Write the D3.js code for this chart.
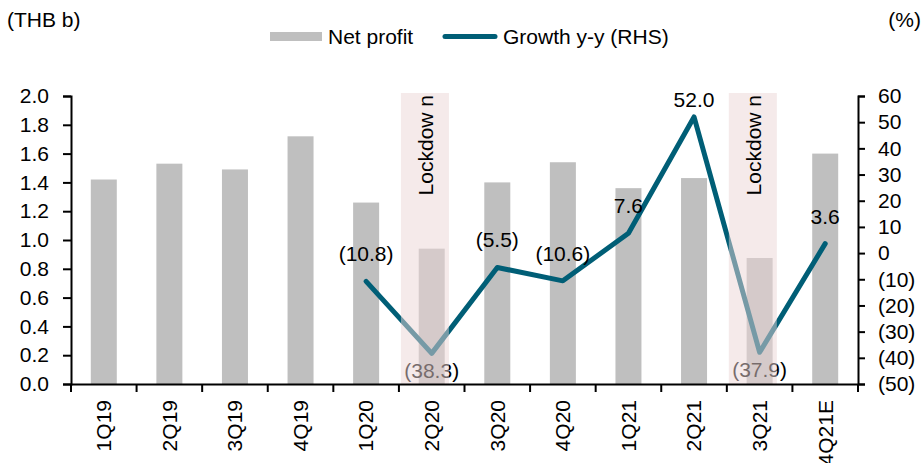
<!DOCTYPE html>
<html>
<head>
<meta charset="utf-8">
<script src="https://cdn.jsdelivr.net/npm/d3@7"></script>
<style>
  html, body { margin: 0; padding: 0; background: #fff; }
  text { font-family: "Liberation Sans", Arial, sans-serif; }
</style>
</head>
<body>
<svg id="chart" width="923" height="463"></svg>
<script>
const categories = ["1Q19","2Q19","3Q19","4Q19","1Q20","2Q20","3Q20","4Q20","1Q21","2Q21","3Q21","4Q21E"];
const netProfit = [1.42, 1.53, 1.49, 1.72, 1.26, 0.94, 1.40, 1.54, 1.36, 1.43, 0.875, 1.60];
const growth = [null, null, null, null, -10.8, -38.3, -5.5, -10.6, 7.6, 52.0, -37.9, 3.6];
const lockdownQuarters = ["2Q20", "3Q21"];
const lockdownLabel = "Lockdow n";
const leftTicks = [0, 0.2, 0.4, 0.6, 0.8, 1.0, 1.2, 1.4, 1.6, 1.8, 2.0];
const rightTicks = [-50, -40, -30, -20, -10, 0, 10, 20, 30, 40, 50, 60];

const FS = 21;
const svg = d3.select("#chart");
const m = { left: 71, right: 858, top: 96, bottom: 384 };

const x = d3.scaleBand().domain(categories).range([m.left, m.right]).padding(0);
const yL = d3.scaleLinear().domain([0, 2]).range([m.bottom, m.top]);
const yR = d3.scaleLinear().domain([-50, 60]).range([m.bottom, m.top]);
const bw = x.bandwidth();
const barW = 26;
const lineColor = "#005e76";
const fmt = v => v < 0 ? "(" + d3.format(".1f")(-v) + ")" : d3.format(".1f")(v);

// bars
svg.append("g").selectAll("rect").data(categories).join("rect")
  .attr("x", (c) => x(c) + bw / 2 - barW / 2)
  .attr("width", barW)
  .attr("y", (c, i) => yL(netProfit[i]))
  .attr("height", (c, i) => yL(0) - yL(netProfit[i]))
  .attr("fill", "#bfbfbf");

// line
const pts = categories.map((c, i) => ({ c, v: growth[i] })).filter(d => d.v !== null);
svg.append("path")
  .datum(pts)
  .attr("fill", "none")
  .attr("stroke", lineColor)
  .attr("stroke-width", 5)
  .attr("stroke-linejoin", "round")
  .attr("stroke-linecap", "round")
  .attr("d", d3.line().x(d => x(d.c) + bw / 2).y(d => yR(d.v)));

// labels
svg.append("g").selectAll("text").data(pts).join("text")
  .attr("x", d => x(d.c) + bw / 2)
  .attr("y", d => {
    if (d.v < -30) return yR(d.v) + 25;
    if (d.v > 50) return yR(d.v) - 10;
    return yR(d.v) - 20;
  })
  .attr("text-anchor", "middle")
  .attr("font-size", FS)
  .attr("fill", "#000")
  .text(d => fmt(d.v));

// lockdown bands (semi-transparent overlay)
svg.append("g").selectAll("rect").data(lockdownQuarters).join("rect")
  .attr("x", c => x(c) + 2)
  .attr("width", 48)
  .attr("y", m.top - 3)
  .attr("height", m.bottom - m.top + 3)
  .attr("fill", "rgb(236,213,213)")
  .attr("fill-opacity", 0.5);

svg.append("g").selectAll("text").data(lockdownQuarters).join("text")
  .attr("transform", c => `translate(${x(c) + 34},${m.top - 1}) rotate(-90)`)
  .attr("text-anchor", "end")
  .attr("font-size", FS)
  .attr("fill", "#000")
  .text(lockdownLabel);

// axes
const axL = d3.axisLeft(yL).tickValues(leftTicks).tickFormat(d3.format(".1f")).tickSizeOuter(0).tickSize(8).tickPadding(14);
const gL = svg.append("g").attr("transform", `translate(${m.left},0)`).call(axL);
const axR = d3.axisRight(yR).tickValues(rightTicks).tickFormat(d => d < 0 ? "(" + (-d) + ")" : d).tickSizeOuter(0).tickSize(7).tickPadding(13);
const gR = svg.append("g").attr("transform", `translate(${m.right},0)`).call(axR);
const axB = d3.axisBottom(x).tickSize(0).tickSizeOuter(0);
const gB = svg.append("g").attr("transform", `translate(0,${m.bottom})`).call(axB);

// x ticks at band boundaries
const bounds = categories.map(c => x(c)).concat([m.right]);
svg.append("g").selectAll("line").data(bounds).join("line")
  .attr("x1", d => d).attr("x2", d => d)
  .attr("y1", m.bottom).attr("y2", m.bottom + 8)
  .attr("stroke", "#000").attr("stroke-width", 2);

[gL, gR, gB].forEach(g => {
  g.select(".domain").attr("stroke", "#000").attr("stroke-width", 2);
  g.selectAll(".tick line").attr("stroke", "#000").attr("stroke-width", 2);
  g.selectAll(".tick text").attr("font-size", FS).attr("fill", "#000")
    .style("font-family", '"Liberation Sans", Arial, sans-serif');
});
gB.selectAll(".tick text")
  .attr("transform", "rotate(-90)")
  .attr("text-anchor", "end")
  .attr("x", -16)
  .attr("y", 0)
  .attr("dy", "0.35em");

// titles
svg.append("text").attr("x", 7).attr("y", 27).attr("font-size", FS).text("(THB b)");
svg.append("text").attr("x", 921).attr("y", 27).attr("text-anchor", "end").attr("font-size", FS).text("(%)");

// legend
svg.append("rect").attr("x", 270).attr("y", 32).attr("width", 52).attr("height", 9).attr("fill", "#bfbfbf");
svg.append("text").attr("x", 328).attr("y", 44).attr("font-size", FS).text("Net profit");
svg.append("line").attr("x1", 445).attr("x2", 495).attr("y1", 36.5).attr("y2", 36.5)
  .attr("stroke", lineColor).attr("stroke-width", 5).attr("stroke-linecap", "round");
svg.append("text").attr("x", 503).attr("y", 44).attr("font-size", FS).text("Growth y-y (RHS)");
</script>
</body>
</html>
